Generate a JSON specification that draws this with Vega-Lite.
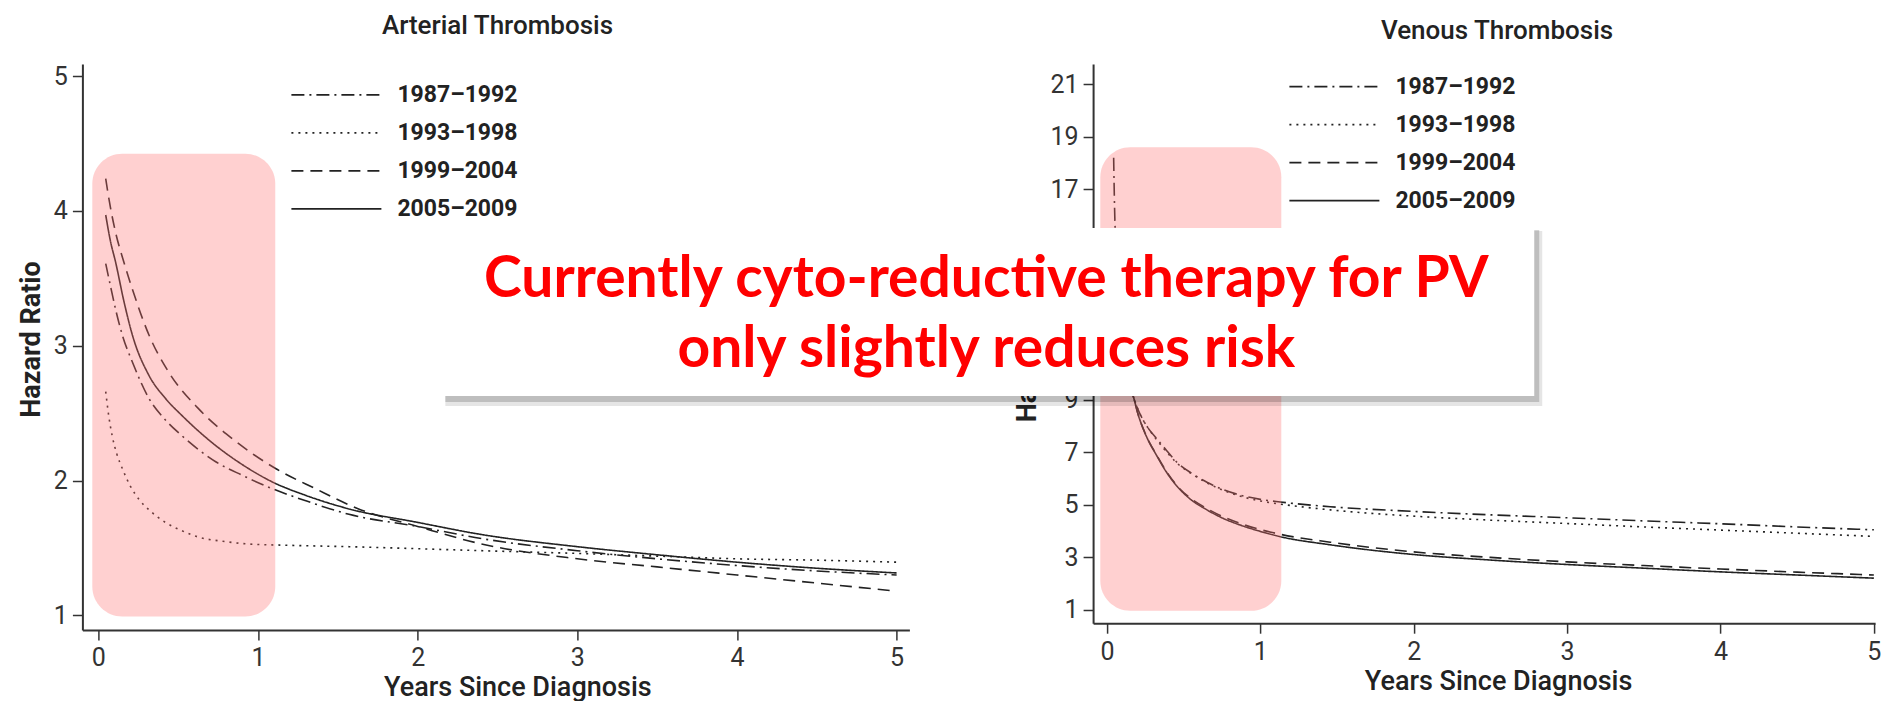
{
  "$schema": "https://vega.github.io/schema/vega-lite/v6.json",
  "background": "white",
  "padding": {"left": 16.4, "top": 13, "right": 0, "bottom": 0},
  "bounds": "flush",
  "spacing": 183.7,
  "config": {
    "view": {"stroke": null},
    "axis": {
      "grid": false,
      "domainColor": "#333333",
      "domainWidth": 2,
      "tickColor": "#333333",
      "tickWidth": 1.5,
      "tickSize": 10,
      "labelFont": "Roboto",
      "labelFontSize": 25,
      "labelColor": "#333333",
      "titleFont": "Roboto",
      "titleColor": "#222222",
      "titleFontSize": 27,
      "format": "d"
    },
    "axisX": {"labelPadding": 6, "titleFontWeight": 500, "titlePadding": 4},
    "axisY": {"labelPadding": 5, "titleFontWeight": "bold", "titlePadding": 8},
    "legend": {
      "orient": "none",
      "title": null,
      "symbolType": "stroke",
      "symbolSize": 8100,
      "symbolStrokeWidth": 1.6,
      "symbolStrokeColor": "#222222",
      "clipHeight": 24,
      "rowPadding": 14,
      "labelFont": "Roboto",
      "labelFontSize": 23,
      "labelFontWeight": "bold",
      "labelColor": "#222222",
      "labelOffset": 15,
      "padding": 0
    }
  },
  "resolve": {
    "scale": {"x": "independent", "y": "independent", "strokeDash": "independent"},
    "legend": {"strokeDash": "independent"}
  },
  "datasets": {
    "arterial": [
      {"period": "1987–1992", "year": 0.046, "hr": 3.61},
      {"period": "1987–1992", "year": 0.08, "hr": 3.42},
      {"period": "1987–1992", "year": 0.108, "hr": 3.27},
      {"period": "1987–1992", "year": 0.15, "hr": 3.08},
      {"period": "1987–1992", "year": 0.213, "hr": 2.88},
      {"period": "1987–1992", "year": 0.317, "hr": 2.61},
      {"period": "1987–1992", "year": 0.42, "hr": 2.45},
      {"period": "1987–1992", "year": 0.526, "hr": 2.33},
      {"period": "1987–1992", "year": 0.735, "hr": 2.14},
      {"period": "1987–1992", "year": 0.9, "hr": 2.04},
      {"period": "1987–1992", "year": 1.09, "hr": 1.94},
      {"period": "1987–1992", "year": 1.3, "hr": 1.85},
      {"period": "1987–1992", "year": 1.57, "hr": 1.75},
      {"period": "1987–1992", "year": 2.0, "hr": 1.66},
      {"period": "1987–1992", "year": 2.4, "hr": 1.57},
      {"period": "1987–1992", "year": 3.0, "hr": 1.48},
      {"period": "1987–1992", "year": 3.5, "hr": 1.42},
      {"period": "1987–1992", "year": 4.0, "hr": 1.37},
      {"period": "1987–1992", "year": 4.5, "hr": 1.33},
      {"period": "1987–1992", "year": 5.0, "hr": 1.30},
      {"period": "1993–1998", "year": 0.046, "hr": 2.66},
      {"period": "1993–1998", "year": 0.065, "hr": 2.48},
      {"period": "1993–1998", "year": 0.087, "hr": 2.33},
      {"period": "1993–1998", "year": 0.115, "hr": 2.2},
      {"period": "1993–1998", "year": 0.15, "hr": 2.09},
      {"period": "1993–1998", "year": 0.2, "hr": 1.96},
      {"period": "1993–1998", "year": 0.255, "hr": 1.86},
      {"period": "1993–1998", "year": 0.33, "hr": 1.77},
      {"period": "1993–1998", "year": 0.42, "hr": 1.69},
      {"period": "1993–1998", "year": 0.52, "hr": 1.63},
      {"period": "1993–1998", "year": 0.63, "hr": 1.58},
      {"period": "1993–1998", "year": 0.78, "hr": 1.55},
      {"period": "1993–1998", "year": 0.94, "hr": 1.53},
      {"period": "1993–1998", "year": 1.2, "hr": 1.52},
      {"period": "1993–1998", "year": 1.57, "hr": 1.51},
      {"period": "1993–1998", "year": 2.0, "hr": 1.495},
      {"period": "1993–1998", "year": 2.41, "hr": 1.48},
      {"period": "1993–1998", "year": 3.0, "hr": 1.46},
      {"period": "1993–1998", "year": 3.5, "hr": 1.44},
      {"period": "1993–1998", "year": 4.0, "hr": 1.42},
      {"period": "1993–1998", "year": 4.5, "hr": 1.41},
      {"period": "1993–1998", "year": 5.0, "hr": 1.395},
      {"period": "1999–2004", "year": 0.046, "hr": 4.24},
      {"period": "1999–2004", "year": 0.075, "hr": 4.03},
      {"period": "1999–2004", "year": 0.108, "hr": 3.84},
      {"period": "1999–2004", "year": 0.16, "hr": 3.62},
      {"period": "1999–2004", "year": 0.213, "hr": 3.42},
      {"period": "1999–2004", "year": 0.317, "hr": 3.08},
      {"period": "1999–2004", "year": 0.443, "hr": 2.80},
      {"period": "1999–2004", "year": 0.63, "hr": 2.53},
      {"period": "1999–2004", "year": 0.84, "hr": 2.31},
      {"period": "1999–2004", "year": 1.11, "hr": 2.09},
      {"period": "1999–2004", "year": 1.36, "hr": 1.94},
      {"period": "1999–2004", "year": 1.63, "hr": 1.79},
      {"period": "1999–2004", "year": 2.0, "hr": 1.66},
      {"period": "1999–2004", "year": 2.4, "hr": 1.53},
      {"period": "1999–2004", "year": 3.0, "hr": 1.42},
      {"period": "1999–2004", "year": 3.5, "hr": 1.36},
      {"period": "1999–2004", "year": 4.0, "hr": 1.30},
      {"period": "1999–2004", "year": 4.5, "hr": 1.24},
      {"period": "1999–2004", "year": 5.0, "hr": 1.18},
      {"period": "2005–2009", "year": 0.046, "hr": 3.97},
      {"period": "2005–2009", "year": 0.075, "hr": 3.78},
      {"period": "2005–2009", "year": 0.108, "hr": 3.62},
      {"period": "2005–2009", "year": 0.16, "hr": 3.33},
      {"period": "2005–2009", "year": 0.213, "hr": 3.08},
      {"period": "2005–2009", "year": 0.317, "hr": 2.78},
      {"period": "2005–2009", "year": 0.42, "hr": 2.61},
      {"period": "2005–2009", "year": 0.526, "hr": 2.48},
      {"period": "2005–2009", "year": 0.735, "hr": 2.26},
      {"period": "2005–2009", "year": 0.9, "hr": 2.12},
      {"period": "2005–2009", "year": 1.09, "hr": 1.99},
      {"period": "2005–2009", "year": 1.3, "hr": 1.89},
      {"period": "2005–2009", "year": 1.57, "hr": 1.79},
      {"period": "2005–2009", "year": 2.0, "hr": 1.69},
      {"period": "2005–2009", "year": 2.4, "hr": 1.60},
      {"period": "2005–2009", "year": 3.0, "hr": 1.51},
      {"period": "2005–2009", "year": 3.5, "hr": 1.45},
      {"period": "2005–2009", "year": 4.0, "hr": 1.395},
      {"period": "2005–2009", "year": 4.5, "hr": 1.35},
      {"period": "2005–2009", "year": 5.0, "hr": 1.315}
    ],
    "venous": [
      {"period": "1987–1992", "year": 0.044, "hr": 18.2},
      {"period": "1987–1992", "year": 0.05, "hr": 16.3},
      {"period": "1987–1992", "year": 0.06, "hr": 14.6},
      {"period": "1987–1992", "year": 0.075, "hr": 13.0},
      {"period": "1987–1992", "year": 0.09, "hr": 11.9},
      {"period": "1987–1992", "year": 0.11, "hr": 10.9},
      {"period": "1987–1992", "year": 0.14, "hr": 9.9},
      {"period": "1987–1992", "year": 0.174, "hr": 9.08},
      {"period": "1987–1992", "year": 0.22, "hr": 8.4},
      {"period": "1987–1992", "year": 0.27, "hr": 7.9},
      {"period": "1987–1992", "year": 0.327, "hr": 7.5},
      {"period": "1987–1992", "year": 0.39, "hr": 7.05},
      {"period": "1987–1992", "year": 0.457, "hr": 6.61},
      {"period": "1987–1992", "year": 0.55, "hr": 6.2},
      {"period": "1987–1992", "year": 0.652, "hr": 5.85},
      {"period": "1987–1992", "year": 0.76, "hr": 5.57},
      {"period": "1987–1992", "year": 0.87, "hr": 5.36},
      {"period": "1987–1992", "year": 1.0, "hr": 5.2},
      {"period": "1987–1992", "year": 1.13, "hr": 5.1},
      {"period": "1987–1992", "year": 1.456, "hr": 4.92},
      {"period": "1987–1992", "year": 2.0, "hr": 4.74},
      {"period": "1987–1992", "year": 2.5, "hr": 4.61},
      {"period": "1987–1992", "year": 3.0, "hr": 4.50},
      {"period": "1987–1992", "year": 3.5, "hr": 4.38},
      {"period": "1987–1992", "year": 4.0, "hr": 4.27},
      {"period": "1987–1992", "year": 4.5, "hr": 4.15},
      {"period": "1987–1992", "year": 5.0, "hr": 4.04},
      {"period": "1993–1998", "year": 0.044, "hr": 15.0},
      {"period": "1993–1998", "year": 0.05, "hr": 14.3},
      {"period": "1993–1998", "year": 0.06, "hr": 13.4},
      {"period": "1993–1998", "year": 0.075, "hr": 12.4},
      {"period": "1993–1998", "year": 0.09, "hr": 11.6},
      {"period": "1993–1998", "year": 0.11, "hr": 10.7},
      {"period": "1993–1998", "year": 0.14, "hr": 9.8},
      {"period": "1993–1998", "year": 0.174, "hr": 9.08},
      {"period": "1993–1998", "year": 0.22, "hr": 8.4},
      {"period": "1993–1998", "year": 0.27, "hr": 7.9},
      {"period": "1993–1998", "year": 0.327, "hr": 7.45},
      {"period": "1993–1998", "year": 0.39, "hr": 7.0},
      {"period": "1993–1998", "year": 0.457, "hr": 6.58},
      {"period": "1993–1998", "year": 0.55, "hr": 6.18},
      {"period": "1993–1998", "year": 0.652, "hr": 5.83},
      {"period": "1993–1998", "year": 0.76, "hr": 5.54},
      {"period": "1993–1998", "year": 0.87, "hr": 5.32},
      {"period": "1993–1998", "year": 1.0, "hr": 5.14},
      {"period": "1993–1998", "year": 1.13, "hr": 5.02},
      {"period": "1993–1998", "year": 1.456, "hr": 4.80},
      {"period": "1993–1998", "year": 2.0, "hr": 4.56},
      {"period": "1993–1998", "year": 2.5, "hr": 4.41},
      {"period": "1993–1998", "year": 3.0, "hr": 4.28},
      {"period": "1993–1998", "year": 3.5, "hr": 4.15},
      {"period": "1993–1998", "year": 4.0, "hr": 4.03},
      {"period": "1993–1998", "year": 4.5, "hr": 3.91},
      {"period": "1993–1998", "year": 5.0, "hr": 3.79},
      {"period": "1999–2004", "year": 0.044, "hr": 14.5},
      {"period": "1999–2004", "year": 0.05, "hr": 13.9},
      {"period": "1999–2004", "year": 0.06, "hr": 13.0},
      {"period": "1999–2004", "year": 0.075, "hr": 12.1},
      {"period": "1999–2004", "year": 0.09, "hr": 11.3},
      {"period": "1999–2004", "year": 0.11, "hr": 10.5},
      {"period": "1999–2004", "year": 0.14, "hr": 9.7},
      {"period": "1999–2004", "year": 0.174, "hr": 9.08},
      {"period": "1999–2004", "year": 0.2, "hr": 8.5},
      {"period": "1999–2004", "year": 0.25, "hr": 7.7},
      {"period": "1999–2004", "year": 0.327, "hr": 6.86},
      {"period": "1999–2004", "year": 0.39, "hr": 6.25},
      {"period": "1999–2004", "year": 0.457, "hr": 5.72},
      {"period": "1999–2004", "year": 0.55, "hr": 5.22},
      {"period": "1999–2004", "year": 0.652, "hr": 4.85},
      {"period": "1999–2004", "year": 0.76, "hr": 4.53},
      {"period": "1999–2004", "year": 0.87, "hr": 4.28},
      {"period": "1999–2004", "year": 1.0, "hr": 4.05},
      {"period": "1999–2004", "year": 1.13, "hr": 3.87},
      {"period": "1999–2004", "year": 1.456, "hr": 3.57},
      {"period": "1999–2004", "year": 2.0, "hr": 3.2},
      {"period": "1999–2004", "year": 2.5, "hr": 2.99},
      {"period": "1999–2004", "year": 3.0, "hr": 2.82},
      {"period": "1999–2004", "year": 3.5, "hr": 2.68},
      {"period": "1999–2004", "year": 4.0, "hr": 2.55},
      {"period": "1999–2004", "year": 4.5, "hr": 2.43},
      {"period": "1999–2004", "year": 5.0, "hr": 2.32},
      {"period": "2005–2009", "year": 0.044, "hr": 14.0},
      {"period": "2005–2009", "year": 0.05, "hr": 13.5},
      {"period": "2005–2009", "year": 0.06, "hr": 12.8},
      {"period": "2005–2009", "year": 0.075, "hr": 11.9},
      {"period": "2005–2009", "year": 0.09, "hr": 11.2},
      {"period": "2005–2009", "year": 0.11, "hr": 10.4},
      {"period": "2005–2009", "year": 0.14, "hr": 9.6},
      {"period": "2005–2009", "year": 0.174, "hr": 9.08},
      {"period": "2005–2009", "year": 0.2, "hr": 8.5},
      {"period": "2005–2009", "year": 0.25, "hr": 7.7},
      {"period": "2005–2009", "year": 0.327, "hr": 6.84},
      {"period": "2005–2009", "year": 0.39, "hr": 6.22},
      {"period": "2005–2009", "year": 0.457, "hr": 5.7},
      {"period": "2005–2009", "year": 0.55, "hr": 5.18},
      {"period": "2005–2009", "year": 0.652, "hr": 4.8},
      {"period": "2005–2009", "year": 0.76, "hr": 4.47},
      {"period": "2005–2009", "year": 0.87, "hr": 4.22},
      {"period": "2005–2009", "year": 1.0, "hr": 3.98},
      {"period": "2005–2009", "year": 1.13, "hr": 3.78},
      {"period": "2005–2009", "year": 1.456, "hr": 3.47},
      {"period": "2005–2009", "year": 2.0, "hr": 3.1},
      {"period": "2005–2009", "year": 2.5, "hr": 2.89},
      {"period": "2005–2009", "year": 3.0, "hr": 2.72},
      {"period": "2005–2009", "year": 3.5, "hr": 2.58},
      {"period": "2005–2009", "year": 4.0, "hr": 2.44},
      {"period": "2005–2009", "year": 4.5, "hr": 2.32},
      {"period": "2005–2009", "year": 5.0, "hr": 2.20}
    ]
  },
  "hconcat": [
    {
      "width": 827,
      "height": 566,
      "title": {"text": "Arterial Thrombosis", "frame": "group", "anchor": "middle", "dx": 1.6, "offset": 4, "baseline": "alphabetic", "font": "Roboto", "fontSize": 26, "fontWeight": 500, "color": "#222222"},
      "layer": [
        {
          "data": {"name": "arterial"},
          "mark": {"type": "line", "interpolate": "monotone", "stroke": "#222222", "strokeWidth": 1.6},
          "encoding": {
            "x": {"field": "year", "type": "quantitative", "scale": {"domain": [-0.1, 5.08], "nice": false, "zero": false}, "axis": {"values": [0, 1, 2, 3, 4, 5], "title": "Years Since Diagnosis", "titleX": 435}},
            "y": {"field": "hr", "type": "quantitative", "scale": {"domain": [0.892, 5.09], "nice": false, "zero": false}, "axis": {"values": [1, 2, 3, 4, 5], "title": "Hazard Ratio", "titleY": 275}},
            "strokeDash": {"field": "period", "type": "nominal", "scale": {"domain": ["1987–1992", "1993–1998", "1999–2004", "2005–2009"], "range": [[13, 5, 2, 5], [2, 5], [12, 7], [1, 0]]}, "legend": {"legendX": 208, "legendY": 18.9}}
          }
        },
        {
          "data": {"values": [{}]},
          "mark": {"type": "rect", "fill": "#ff7070", "opacity": 0.33, "cornerRadius": 30},
          "encoding": {"x": {"datum": -0.038}, "x2": {"datum": 1.108}, "y": {"datum": 4.424}, "y2": {"datum": 0.993}}
        }
      ]
    },
    {
      "width": 782,
      "height": 559.2,
      "title": {"text": "Venous Thrombosis", "frame": "group", "anchor": "middle", "dx": 13, "offset": -0.5, "baseline": "alphabetic", "font": "Roboto", "fontSize": 26, "fontWeight": 500, "color": "#222222"},
      "layer": [
        {
          "data": {"name": "venous"},
          "mark": {"type": "line", "interpolate": "monotone", "stroke": "#222222", "strokeWidth": 1.6},
          "encoding": {
            "x": {"field": "year", "type": "quantitative", "scale": {"domain": [-0.09, 5.008], "nice": false, "zero": false}, "axis": {"values": [0, 1, 2, 3, 4, 5], "title": "Years Since Diagnosis", "titleX": 405}},
            "y": {"field": "hr", "type": "quantitative", "scale": {"domain": [0.486, 21.77], "nice": false, "zero": false}, "axis": {"values": [1, 3, 5, 7, 9, 11, 13, 15, 17, 19, 21], "title": "Hazard Ratio"}},
            "strokeDash": {"field": "period", "type": "nominal", "scale": {"domain": ["1987–1992", "1993–1998", "1999–2004", "2005–2009"], "range": [[13, 5, 2, 5], [2, 5], [12, 7], [1, 0]]}, "legend": {"legendX": 195.3, "legendY": 10.6}}
          }
        },
        {
          "data": {"values": [{}]},
          "mark": {"type": "rect", "fill": "#ff7070", "opacity": 0.33, "cornerRadius": 30},
          "encoding": {"x": {"datum": -0.043}, "x2": {"datum": 1.137}, "y": {"datum": 18.6}, "y2": {"datum": 0.96}}
        },
        {
          "data": {"values": [{}]},
          "mark": {"type": "rect", "fill": "#000000", "opacity": 0.1, "xOffset": 2, "x2Offset": 8, "yOffset": 3, "y2Offset": 10},
          "encoding": {"x": {"datum": -4.326}, "x2": {"datum": 2.786}, "y": {"datum": 15.53}, "y2": {"datum": 9.135}}
        },
        {
          "data": {"values": [{}]},
          "mark": {"type": "rect", "fill": "#000000", "opacity": 0.17, "xOffset": 2, "x2Offset": 5, "yOffset": 2, "y2Offset": 6},
          "encoding": {"x": {"datum": -4.326}, "x2": {"datum": 2.786}, "y": {"datum": 15.53}, "y2": {"datum": 9.135}}
        },
        {
          "data": {"values": [{}]},
          "mark": {"type": "rect", "fill": "#ffffff"},
          "encoding": {"x": {"datum": -4.326}, "x2": {"datum": 2.786}, "y": {"datum": 15.53}, "y2": {"datum": 9.135}}
        },
        {
          "data": {"values": [{}]},
          "mark": {"type": "text", "text": ["Currently cyto-reductive therapy for PV", "only slightly reduces risk"], "font": "Lato", "fontSize": 57, "fontWeight": "bold", "fill": "#ff0000", "align": "center", "baseline": "middle", "lineHeight": 70},
          "encoding": {"x": {"datum": -0.786}, "y": {"datum": 13.55}}
        }
      ]
    }
  ]
}
